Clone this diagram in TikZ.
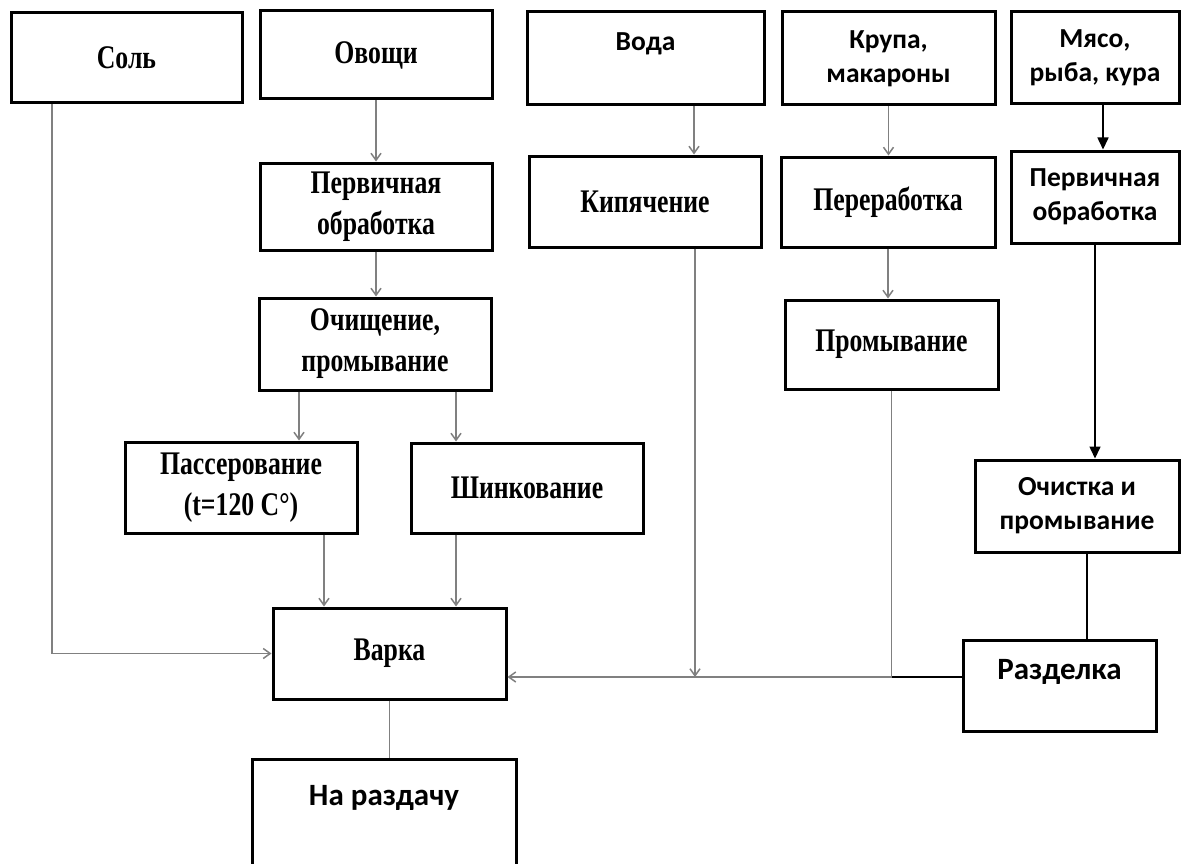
\documentclass[tikz,border=0pt]{standalone}
\usepackage{fontspec}
\newfontfamily\tnrfont[FakeStretch=0.78]{Liberation Serif}
\newfontfamily\calfont{Carlito}
\usetikzlibrary{arrows.meta}
\definecolor{line-gray}{HTML}{808080}

\begin{document}
\begin{tikzpicture}[x=1pt, y=-1pt,
    box/.style={draw, line width=3pt, inner sep=2pt, align=center},
    serifbox/.style={box, font=\tnrfont\bfseries\fontsize{33}{41}\selectfont},
    sansbox/.style={box, font=\calfont\bfseries\fontsize{27.5}{34}\selectfont},
    bigsansbox/.style={box, font=\calfont\bfseries\fontsize{31}{34}\selectfont},
    garrow/.style={draw=line-gray, line width=1.5pt, -{Straight Barb[length=7pt,width=10pt]}},
    gline/.style={draw=line-gray, line width=1.5pt},
    barrow/.style={draw=black, line width=1.6pt, -{Triangle[length=12pt,width=11pt]}},
    bline/.style={draw=black, line width=1.3pt}]
  \clip (0,0) rectangle (1188,864);
  \fill[white] (0,0) rectangle (1188,864);
  % top row
  \node[serifbox, minimum width=231pt, minimum height=90pt] (sol) at (126.5,58) {Соль};
  \node[serifbox, minimum width=232pt, minimum height=88pt] (ovo) at (376,55) {Овощи};
  \node[sansbox, minimum width=237pt, minimum height=93pt] (voda) at (645.5,58.5) {Вода\\~};
  \node[sansbox, minimum width=213pt, minimum height=93pt] (krupa) at (888.5,58.5) {Крупа,\\макароны};
  \node[sansbox, minimum width=168pt, minimum height=92pt] (myaso) at (1095,58) {Мясо,\\рыба, кура};
  % second row
  \node[serifbox, minimum width=232pt, minimum height=87pt] (perv1) at (376,206.5) {Первичная\\обработка};
  \node[serifbox, minimum width=232pt, minimum height=91pt] (kip) at (645,201.5) {Кипячение};
  \node[serifbox, minimum width=214pt, minimum height=90pt] (perer) at (888,202) {Переработка};
  \node[sansbox, minimum width=168pt, minimum height=92pt] (perv2) at (1095,197) {Первичная\\обработка};
  % third row
  \node[serifbox, minimum width=232pt, minimum height=92pt] (ochish) at (375,344) {Очищение,\\промывание};
  \node[serifbox, minimum width=213pt, minimum height=89pt] (promyv) at (891.5,344.5) {Промывание};
  % fourth row
  \node[serifbox, minimum width=232pt, minimum height=91pt] (pass) at (241,487.5) {Пассерование\\(t=120 C°)};
  \node[serifbox, minimum width=232pt, minimum height=90pt] (shink) at (527,488) {Шинкование};
  \node[sansbox, minimum width=204pt, minimum height=92pt] (ochist) at (1077,506) {Очистка и\\промывание};
  % bottom
  \node[serifbox, minimum width=233pt, minimum height=91pt] (varka) at (389.5,653.5) {Варка};
  \node[bigsansbox, minimum width=193pt, minimum height=91pt] (razd) at (1059.5,686) {Разделка\\~};
  \node[bigsansbox, minimum width=264pt, minimum height=106pt] (razdacha) at (384,812) {На раздачу\\~};

  % columns for connectors
  \coordinate (solx) at (52,0);
  \coordinate (lpass) at (299,0);
  \coordinate (lshink) at (456,0);
  \coordinate (ipass) at (324,0);
  \coordinate (vodx) at (694,0);
  \coordinate (kipend) at (695,677);
  \coordinate (join) at (promyv.south |- kipend);
  \coordinate (myx) at (1103,0);
  \coordinate (ochx) at (1087,0);

  \draw[garrow] (sol.south -| solx) |- (varka.west);
  \draw[garrow] (ovo.south) -- (ovo.south |- perv1.north);
  \draw[garrow] (perv1.south) -- (perv1.south |- ochish.north);
  \draw[garrow] (ochish.south -| lpass) -- (pass.north -| lpass);
  \draw[garrow] (ochish.south -| lshink) -- (shink.north -| lshink);
  \draw[garrow] (pass.south -| ipass) -- (varka.north -| ipass);
  \draw[garrow] (shink.south -| lshink) -- (varka.north -| lshink);
  \draw[gline] (varka.south) -- (varka.south |- razdacha.north);
  \draw[garrow] (voda.south -| vodx) -- (kip.north -| vodx);
  \draw[garrow] (kip.south -| kipend) -- (kipend);
  \draw[garrow] (krupa.south) -- (krupa.south |- perer.north);
  \draw[garrow] (perer.south) -- (perer.south |- promyv.north);
  \draw[gline] (promyv.south) -- (join);
  \draw[garrow] (join) -- (varka.east |- join);
  \draw[bline] (razd.west |- join) -- (join);
  \draw[barrow] (myaso.south -| myx) -- (perv2.north -| myx);
  \draw[barrow] (perv2.south) -- (perv2.south |- ochist.north);
  \draw[bline] (ochist.south -| ochx) -- (razd.north -| ochx);
\end{tikzpicture}
\end{document}
